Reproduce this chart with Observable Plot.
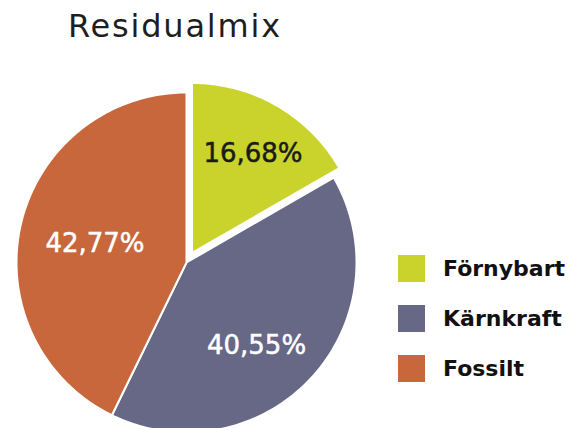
<!DOCTYPE html>
<html><head><meta charset="utf-8">
<script src="https://cdn.jsdelivr.net/npm/d3@7"></script>
<script src="https://cdn.jsdelivr.net/npm/@observablehq/plot@0.6"></script>
<style>
body{margin:0;background:#fff;}
#wrap{position:relative;width:574px;height:428px;overflow:hidden;font-family:"DejaVu Sans",sans-serif;}
#chart{position:absolute;left:0;top:0;}
#title{position:absolute;left:68px;top:10px;font-size:32px;line-height:32px;letter-spacing:1.8px;color:#1e1e1e;white-space:nowrap;}
#legend{position:absolute;left:398px;top:255px;}
.item{display:flex;align-items:center;height:27px;margin-bottom:23px;font-weight:bold;font-size:22px;line-height:27px;color:#111;white-space:nowrap;}
.sw{width:27px;height:27px;margin-right:18px;flex-shrink:0;}
</style></head><body>
<div id="wrap"><div id="chart"></div><div id="title">Residualmix</div><div id="legend"></div></div>
<script>
// Data
const names = ["Förnybart", "Kärnkraft", "Fossilt"];
const values = [16.68, 40.55, 42.77];
const labels = ["16,68%", "40,55%", "42,77%"];
const colors = ["#c9d32c", "#666886", "#c8663c"];

// Layout constants (radius units)
const explode = [0.065, 0, 0];
const labelRadius = [0.684, 0.64, 0.55];
const labelTurn = [1.6, 6.9, -1.3]; // degrees

const total = d3.sum(values);
const slices = [];
const points = [];
let acc = 0;
values.forEach((v, i) => {
  const a0 = acc / total * 2 * Math.PI;
  acc += v;
  const a1 = acc / total * 2 * Math.PI;
  const mid = (a0 + a1) / 2;
  const ox = explode[i] * Math.sin(mid), oy = -explode[i] * Math.cos(mid);
  points.push({name: names[i], x: ox, y: oy});
  const n = Math.max(2, Math.ceil((a1 - a0) / (Math.PI / 180)));
  for (let k = 0; k <= n; k++) {
    const a = a0 + (a1 - a0) * k / n;
    points.push({name: names[i], x: ox + Math.sin(a), y: oy - Math.cos(a)});
  }
  const la = mid + labelTurn[i] * Math.PI / 180;
  slices.push({
    name: names[i], label: labels[i],
    lx: ox + labelRadius[i] * Math.sin(la),
    ly: oy - labelRadius[i] * Math.cos(la)
  });
});

const chart = Plot.plot({
  width: 574,
  height: 428,
  margin: 0,
  x: {domain: [-1, 1], range: [16, 356], axis: null},
  y: {domain: [-1, 1], range: [92, 432], axis: null},
  color: {domain: names, range: colors},
  style: {fontFamily: "'DejaVu Sans', sans-serif", background: "transparent", overflow: "hidden"},
  marks: [
    Plot.line(points, {x: "x", y: "y", z: "name", fill: "name", stroke: "white", strokeWidth: 2, curve: "linear-closed"}),
    Plot.text(slices.filter(d => d.name === "Förnybart"), {x: "lx", y: "ly", text: "label", fill: "#1a1a1a", stroke: "#1a1a1a", strokeWidth: 0.5, fontSize: 26, textAnchor: "middle", lineAnchor: "middle"}),
    Plot.text(slices.filter(d => d.name !== "Förnybart"), {x: "lx", y: "ly", text: "label", fill: "white", stroke: "white", strokeWidth: 0.5, fontSize: 26, textAnchor: "middle", lineAnchor: "middle"})
  ]
});
document.getElementById("chart").appendChild(chart);

// Legend from the plot's color scale
const cs = chart.scale("color");
const legend = d3.select("#legend");
cs.domain.forEach(name => {
  const item = legend.append("div").attr("class", "item");
  item.append("div").attr("class", "sw").style("background", cs.apply(name));
  item.append("span").text(name);
});
</script>
</body></html>
